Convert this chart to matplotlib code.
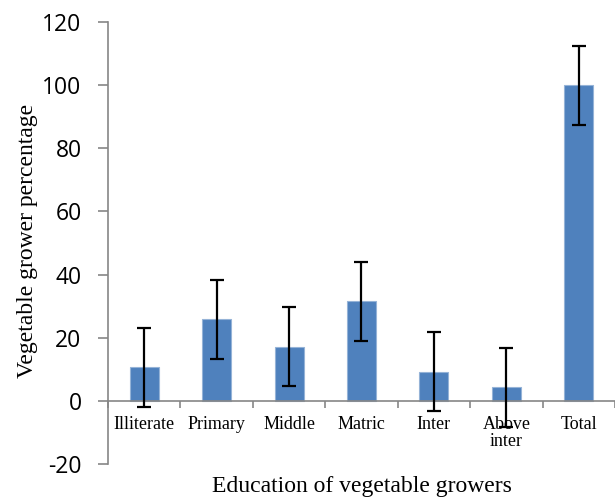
import matplotlib.pyplot as plt
import numpy as np

categories = ['Illiterate', 'Primary', 'Middle', 'Matric', 'Inter', 'Above\ninter', 'Total']
percentages = [10.7, 25.9, 17.1, 31.5, 9.2, 4.3, 100.0]
errors = [12.5, 12.5, 12.5, 12.5, 12.5, 12.5, 12.5]
y_ticks = [-20, 0, 20, 40, 60, 80, 100, 120]

fig = plt.figure(figsize=(6.15, 4.97), dpi=100)
ax = fig.add_axes([0.1756, 0.0664, 0.8244, 0.8893])

# spine position first: moving it resets the tick objects
for s in ['top', 'right']:
    ax.spines[s].set_visible(False)
ax.spines['left'].set_color('#868686')
ax.spines['left'].set_linewidth(1.2)
ax.spines['bottom'].set_color('#868686')
ax.spines['bottom'].set_linewidth(1.2)
ax.spines['bottom'].set_position(('data', 0))

x = np.arange(len(categories))
ax.bar(x, percentages, width=0.4, color='#4F81BD', edgecolor='#95B3D7', linewidth=0.8, zorder=2)
ax.errorbar(x, percentages, yerr=errors, fmt='none', ecolor='black',
            elinewidth=1.6, capsize=5, capthick=1.6, zorder=3)

ax.set_xlim(-0.5, 6.5)
ax.set_ylim(-20, 120)
ax.set_yticks(y_ticks)
ax.set_yticklabels([str(t) for t in y_ticks], fontfamily='Open Sans', fontsize=16.5)

ax.set_xticks(x)
ax.set_xticklabels(categories, fontfamily='Liberation Serif', fontsize=13, linespacing=1.0)
ax.set_xticks(np.arange(-0.5, 7, 1), minor=True)
ax.tick_params(axis='x', which='major', length=0, pad=11)
ax.tick_params(axis='x', which='minor', length=5, color='#868686', width=1.2)
ax.tick_params(axis='y', length=7, color='#868686', width=1.2, pad=12)

fig.text(0.588, 0.022, 'Education of vegetable growers', ha='center', va='center',
         fontfamily='Liberation Serif', fontsize=17)
fig.text(0.045, 0.515, 'Vegetable grower percentage', ha='center', va='center',
         rotation=90, fontfamily='Liberation Serif', fontsize=17)

fig.savefig('out.png', dpi=100)
